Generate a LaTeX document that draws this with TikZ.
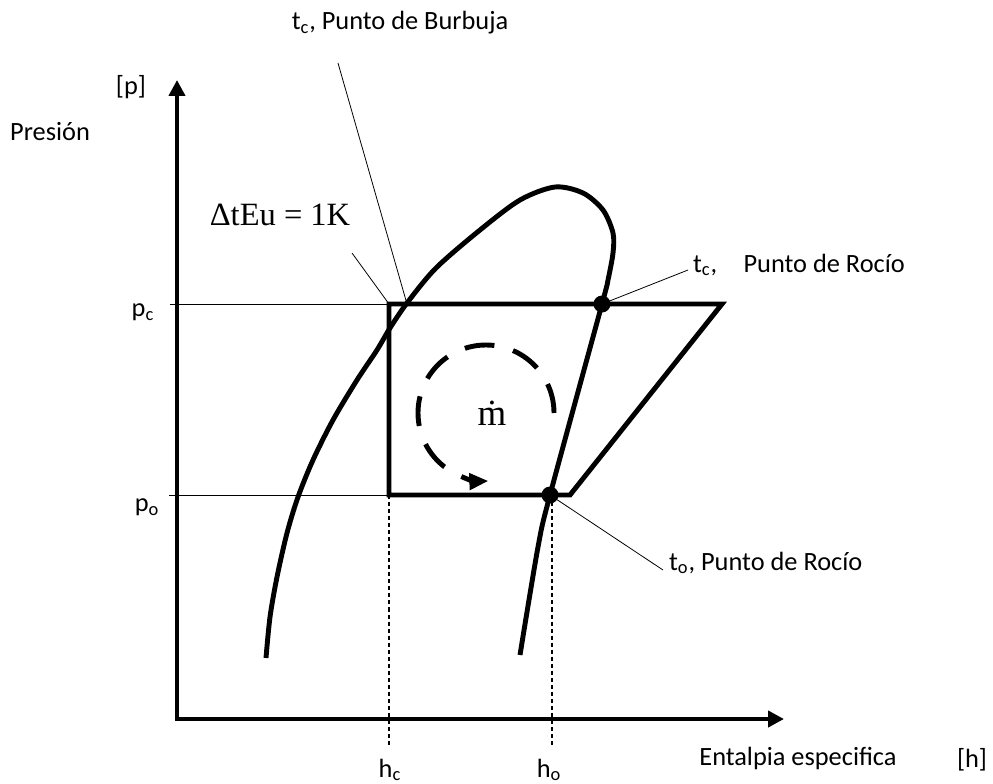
\documentclass[tikz,border=0pt]{standalone}
\usepackage{fontspec}
\setmainfont{Carlito}
\newfontfamily\tnr{Liberation Serif}
\usetikzlibrary{arrows.meta}

\begin{document}
\begin{tikzpicture}[>={Triangle[length=0.32cm,width=0.32cm]}]
    \tikzstyle{every node}=[font=\fontsize{15}{18}\selectfont, inner sep=1pt]
    \tikzstyle{grueso}=[line width=2.8pt]
    \tikzstyle{fino}=[line width=0.45pt]
    \tikzstyle{guia}=[line width=0.6pt, dash pattern=on 2.3pt off 1.7pt]
    \tikzstyle{punto}=[circle, fill=black, inner sep=0pt, minimum size=0.34cm]
    \tikzstyle{serif}=[font=\tnr\fontsize{18.5}{22}\selectfont]

    \useasboundingbox (0,0) rectangle (19.86,15.66);

    % ejes
    \coordinate (O)    at (3.54,1.28);
    \coordinate (ytip) at (3.54,14.06);
    \coordinate (xtip) at (15.68,1.28);
    \draw[grueso,<->] (ytip) -- (O) -- (xtip);

    \node (pres) at (1.00,13.02) {Presión};
    \node (pu)   at (2.62,13.92) {[p]};
    \node (ent)  at (15.96,0.50) {Entalpia especifica};
    \node (hu)   at (19.44,0.46) {[h]};

    % ciclo
    \coordinate (b1) at (7.78,9.58);
    \coordinate (b2) at (14.44,9.58);
    \coordinate (b3) at (11.40,5.76);
    \coordinate (b4) at (7.78,5.76);
    \coordinate (bub) at (8.14,9.58);
    \coordinate (pcx) at (3.40,9.58);
    \coordinate (pox) at (3.38,5.76);
    \coordinate (hcx) at (7.78,0.76);
    \coordinate (hox) at (11.04,0.76);

    \draw[fino] (pcx) -- (b1);
    \draw[fino] (pox) -- (b4);
    \draw[guia] (b4) -- (hcx);
    \draw[guia] (11.04,5.76) -- (hox);

    \node (pc) at (2.86,9.42) {p\textsubscript{c}};
    \node (po) at (2.94,5.52) {p\textsubscript{o}};
    \node (hc) at (7.80,0.26) {h\textsubscript{c}};
    \node (ho) at (10.98,0.26) {h\textsubscript{o}};

    \draw[grueso, line join=miter] (b1) -- (b2) -- (b3) -- (b4) -- cycle;

    % curva de saturacion
    \draw[grueso] plot[smooth] coordinates {(5.32,2.50) (5.40,3.32) (5.54,4.12)
        (5.74,5.00) (5.96,5.72) (6.26,6.46) (6.66,7.26) (7.14,8.06) (7.54,8.66)
        (7.80,9.10) (8.14,9.60) (8.72,10.30) (9.60,11.06) (10.40,11.66)
        (11.10,11.92) (11.66,11.80) (12.06,11.46) (12.26,11.00)
        (12.26,10.60) (12.16,10.06) (12.04,9.58) (11.00,5.76) (10.76,4.72)
        (10.40,2.56)};

    \node[punto] (dc) at (12.04,9.58) {};
    \node[punto] (do) at (11.00,5.76) {};

    % flujo masico
    \coordinate (mc) at (9.72,7.40);
    \draw[grueso, dash pattern=on 17pt off 11pt, -{Triangle[length=0.38cm,width=0.32cm]}]
        ([shift={(0:1.36)}]mc) arc[start angle=0, end angle=272, radius=1.36];
    \node[serif, font=\tnr\fontsize{21}{24}\selectfont] (m) at (9.84,7.40) {ṁ};

    % rotulos
    \node (lbur) at (8.00,15.20) {t\textsubscript{c}, Punto de Burbuja};
    \coordinate (bur1) at (6.76,14.40);
    \draw[fino] (bur1) -- (bub);

    \node[serif] (dt) at (5.60,11.36) {ΔtEu = 1K};
    \coordinate (dt1) at (7.04,10.60);
    \draw[fino] (dt1) -- (b1);

    \node[anchor=west] (ltc) at (13.82,10.36) {t\textsubscript{c},\quad Punto de Rocío};
    \coordinate (tc1) at (13.76,10.26);
    \draw[fino] (dc.center) -- (tc1);

    \node[anchor=west] (lto) at (13.34,4.40) {t\textsubscript{o}, Punto de Rocío};
    \coordinate (to1) at (13.26,4.26);
    \draw[fino] (do.center) -- (to1);
\end{tikzpicture}
\end{document}
